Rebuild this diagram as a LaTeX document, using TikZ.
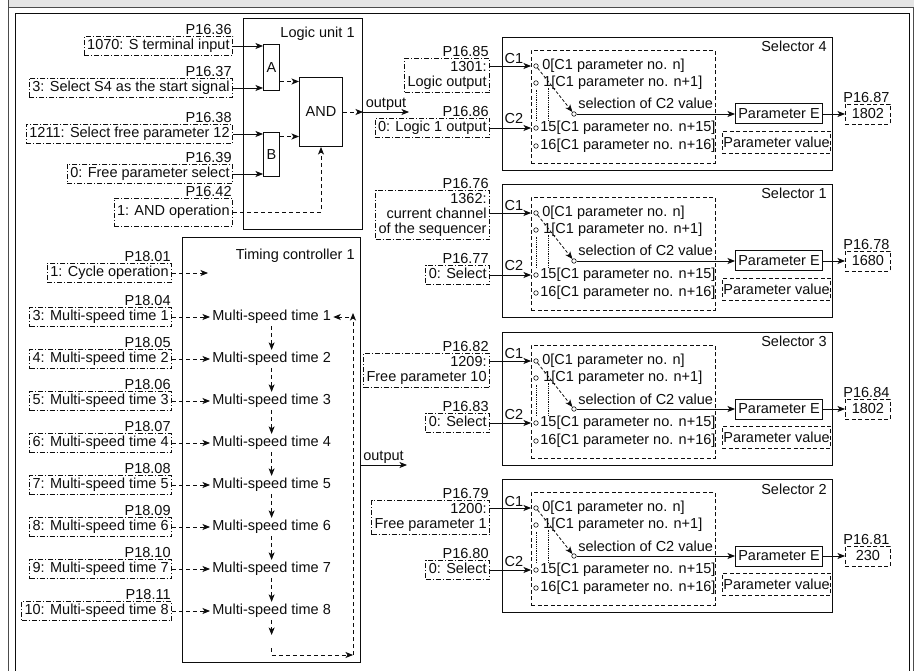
\documentclass[tikz,border=0pt]{standalone}
\usepackage{fontspec}
\setmainfont{Liberation Sans}
\usetikzlibrary{positioning,arrows.meta}

\tikzset{
  parbox/.style={draw, dash pattern=on 5pt off 2pt on 1pt off 2pt, inner xsep=3pt, inner ysep=3pt, align=right},
  onebox/.style={parbox, text height=10.5pt, text depth=3pt},
  parlbl/.style={inner sep=1pt, anchor=south east},
  blk/.style={draw, line width=1pt},
  selin/.style={draw, dash pattern=on 4pt off 2.5pt},
  pin/.style={circle, draw, fill=white, inner sep=0pt, minimum size=4.5pt, line width=0.6pt},
  flow/.style={->, dash pattern=on 4pt off 3pt},
}

\begin{document}
\begin{tikzpicture}[x=1pt, y=-1pt, >={Stealth[length=7.5pt, width=6pt, inset=2pt]},
    line width=0.8pt, color=black!95, font=\fontsize{14.5}{15}\selectfont]
  \useasboundingbox (0,0) rectangle (914,671);
  % page frame
  \fill[black!10] (8.5,0) rectangle (914,7.5);
  \draw[black!70, line width=1pt] (8.5,0) -- (8.5,671);
  \draw[black!70, line width=1pt] (8.5,7.5) -- (914,7.5);
  \draw[black!70] (913,7.5) -- (913,671);
  \draw[line width=1pt] (15.5,680) |- (909,13.5) -- (909,680);

  % logic unit 1
  \node[blk, anchor=north west, minimum width=119, minimum height=211] (lu) at (243,18) {};
  \node[anchor=base east, inner sep=0pt] (lutitle) at (355,38) {Logic unit 1};
  \node[onebox, anchor=east] (in1) at (233,46) {1070: S terminal input};
  \node[onebox, anchor=east] (in2) at (233,88) {3: Select S4 as the start signal};
  \node[onebox, anchor=east] (in3) at (233,134) {1211: Select free parameter 12};
  \node[onebox, anchor=east] (in4) at (233,174) {0: Free parameter select};
  \node[onebox, anchor=east, minimum height=28] (in5) at (233,212) {1: AND operation};
  \node[parlbl] (p1636) at (in1.north east) {P16.36};
  \node[parlbl] (p1637) at (in2.north east) {P16.37};
  \node[parlbl] (p1638) at (in3.north east) {P16.38};
  \node[parlbl] (p1639) at (in4.north east) {P16.39};
  \node[parlbl] (p1642) at (in5.north east) {P16.42};
  \node[blk, anchor=north west, inner sep=0pt, minimum width=16, minimum height=46] (A) at (263,44) {A};
  \node[blk, anchor=north west, inner sep=0pt, minimum width=16, minimum height=44] (B) at (263,132) {B};
  \node[blk, anchor=north west, inner sep=0pt, minimum width=43, minimum height=69] (and) at (299,77) {AND};
  \draw[->] (in1) -- (in1 -| A.west);
  \draw[->] (in2) -- (in2 -| A.west);
  \draw[->] (in3) -- (in3 -| B.west);
  \draw[->] (in4) -- (in4 -| B.west);
  \draw[flow] ([yshift=-14pt]A.east) -- ([yshift=-14pt]A.east -| and.west);
  \draw[flow] ([yshift=18pt]B.east) -- ([yshift=18pt]B.east -| and.west);
  \draw[flow] (in5) -| (and.south);
  \draw[flow] (and.east) -- (and.east -| lu.east);
  \draw[->] (and.east -| lu.east) -- ++(46,0) node[midway, above, inner sep=1pt] (luout) {output};

  % timing controller 1
  \node[blk, anchor=north west, minimum width=178, minimum height=425] (tc) at (182,237) {};
  \node[anchor=base east, inner sep=0pt] (tctitle) at (355,260) {Timing controller 1};
  \node[onebox, anchor=east] (cyc) at (172,273) {1: Cycle operation};
  \node[parlbl] (p1801) at (cyc.north east) {P18.01};
  \coordinate (cycend) at (208,273);
  \draw[flow] (cyc) -- (cycend);
  \foreach \kk/\vv/\pp in {1/3/04, 2/4/05, 3/5/06, 4/6/07, 5/7/08, 6/8/09, 7/9/10, 8/10/11}{
    \node[onebox, anchor=east] (mt\kk) at (172,317+42*\kk-42) {\vv: Multi-speed time \kk};
    \node[parlbl] (pm\kk) at (mt\kk.north east) {P18.\pp};
    \node[anchor=west, inner sep=2pt] (ms\kk) at (210,317+42*\kk-42) {Multi-speed time \kk};
    \draw[flow] (mt\kk) -- (ms\kk);
  }
  \foreach \kk/\nn in {1/2, 2/3, 3/4, 4/5, 5/6, 6/7, 7/8}
    \draw[flow] (ms\kk) -- (ms\nn);
  \coordinate (lpbr) at (353,655);
  \coordinate (lptr) at (353,313);
  \coordinate (lpin) at (349,317);
  \draw[flow] (ms8) -- ++(0,24);
  \draw[flow] (ms8.south) ++(0,28) |- (lpbr);
  \draw[flow] (lpbr) -- (lptr);
  \draw[flow] (lpin) -- (ms1);
  \coordinate (tcout) at (360,465);
  \draw[->] (tcout) -- ++(47,0) node[midway, above, inner sep=1pt] (tcouttxt) {output};

  % selectors
  \foreach \s/\T/\cin/\cpar/\dpar/\din/\opar/\ov in {
      4/37/{1301:\\Logic output}/P16.85/P16.86/{0: Logic 1 output}/P16.87/1802,
      1/184/{1362:\\current channel\\of the sequencer}/P16.76/P16.77/{0: Select}/P16.78/1680,
      3/332/{1209:\\Free parameter 10}/P16.82/P16.83/{0: Select}/P16.84/1802,
      2/479/{1200:\\Free parameter 1}/P16.79/P16.80/{0: Select}/P16.81/230}{
    \node[blk, anchor=north west, minimum width=330, minimum height=133] (sel\s) at (502,\T) {};
    \node[anchor=base east, inner sep=0pt] (sel\s-t) at (827,\T+15) {Selector \s};
    \node[selin, anchor=north west, minimum width=184, minimum height=113] (sel\s-in) at (531,\T+13) {};
    \node[anchor=base, inner sep=0pt] (sel\s-c1) at (514,\T+27) {C1};
    \node[anchor=base, inner sep=0pt] (sel\s-c2) at (514,\T+87) {C2};
    \foreach \r/\dy/\dx/\txt in {a/29/541/{0[C1 parameter no. n]}, b/46/542/{1[C1 parameter no. n+1]},
        c/91/539/{15[C1 parameter no. n+15]}, d/109/539/{16[C1 parameter no. n+16]}}{
      \node[anchor=west, inner sep=1pt] (sel\s-\r t) at (\dx,\T+\dy) {\txt};
      \node[pin] (sel\s-\r) at (536,\T+\dy) {};
    }
    \draw[densely dotted] ([yshift=-4pt]sel\s-b.south) -- ([yshift=5pt]sel\s-c.north);
    \draw[densely dotted] ([xshift=12pt,yshift=-2pt]sel\s-b.south) -- ([xshift=12pt,yshift=5pt]sel\s-c.north);
    \node[pin] (sel\s-sw) at (574,\T+77) {};
    \draw[->, dash pattern=on 3pt off 2pt] (sel\s-a) -- (sel\s-sw);
    \node[anchor=base west, inner sep=0pt] (sel\s-swt) at (578,\T+72) {selection of C2 value};
    \node[blk, anchor=west, inner sep=0pt, minimum width=87, minimum height=20] (sel\s-pe) at (735,\T+77) {Parameter E};
    \draw[->] (sel\s-sw) -- (sel\s-pe);
    \node[selin, anchor=north west, inner sep=1pt, minimum width=106, minimum height=22] (sel\s-pv) at (722,\T+94) {Parameter value};
    \node[selin, anchor=west, inner sep=0pt, minimum width=45, minimum height=20] (sel\s-o) at (845,\T+77) {\ov};
    \node[parlbl] (sel\s-op) at (sel\s-o.north east) {\opar};
    \draw[->] (sel\s-pe) -- (sel\s-o);
    % inputs C1 and C2
    \node[parbox, anchor=south east] (sel\s-ci) at (490,\T+56) {\cin};
    \node[parlbl] (sel\s-cp) at (sel\s-ci.north east) {\cpar};
    \draw[->] (sel\s-ci.east |- sel\s-a) -- (sel\s-in.west |- sel\s-a);
    \node[onebox, anchor=east] (sel\s-di) at (490,\T+91) {\din};
    \node[parlbl] (sel\s-dp) at (sel\s-di.north east) {\dpar};
    \draw[->] (sel\s-di) -- (sel\s-in.west |- sel\s-di);
  }
\end{tikzpicture}
\end{document}
